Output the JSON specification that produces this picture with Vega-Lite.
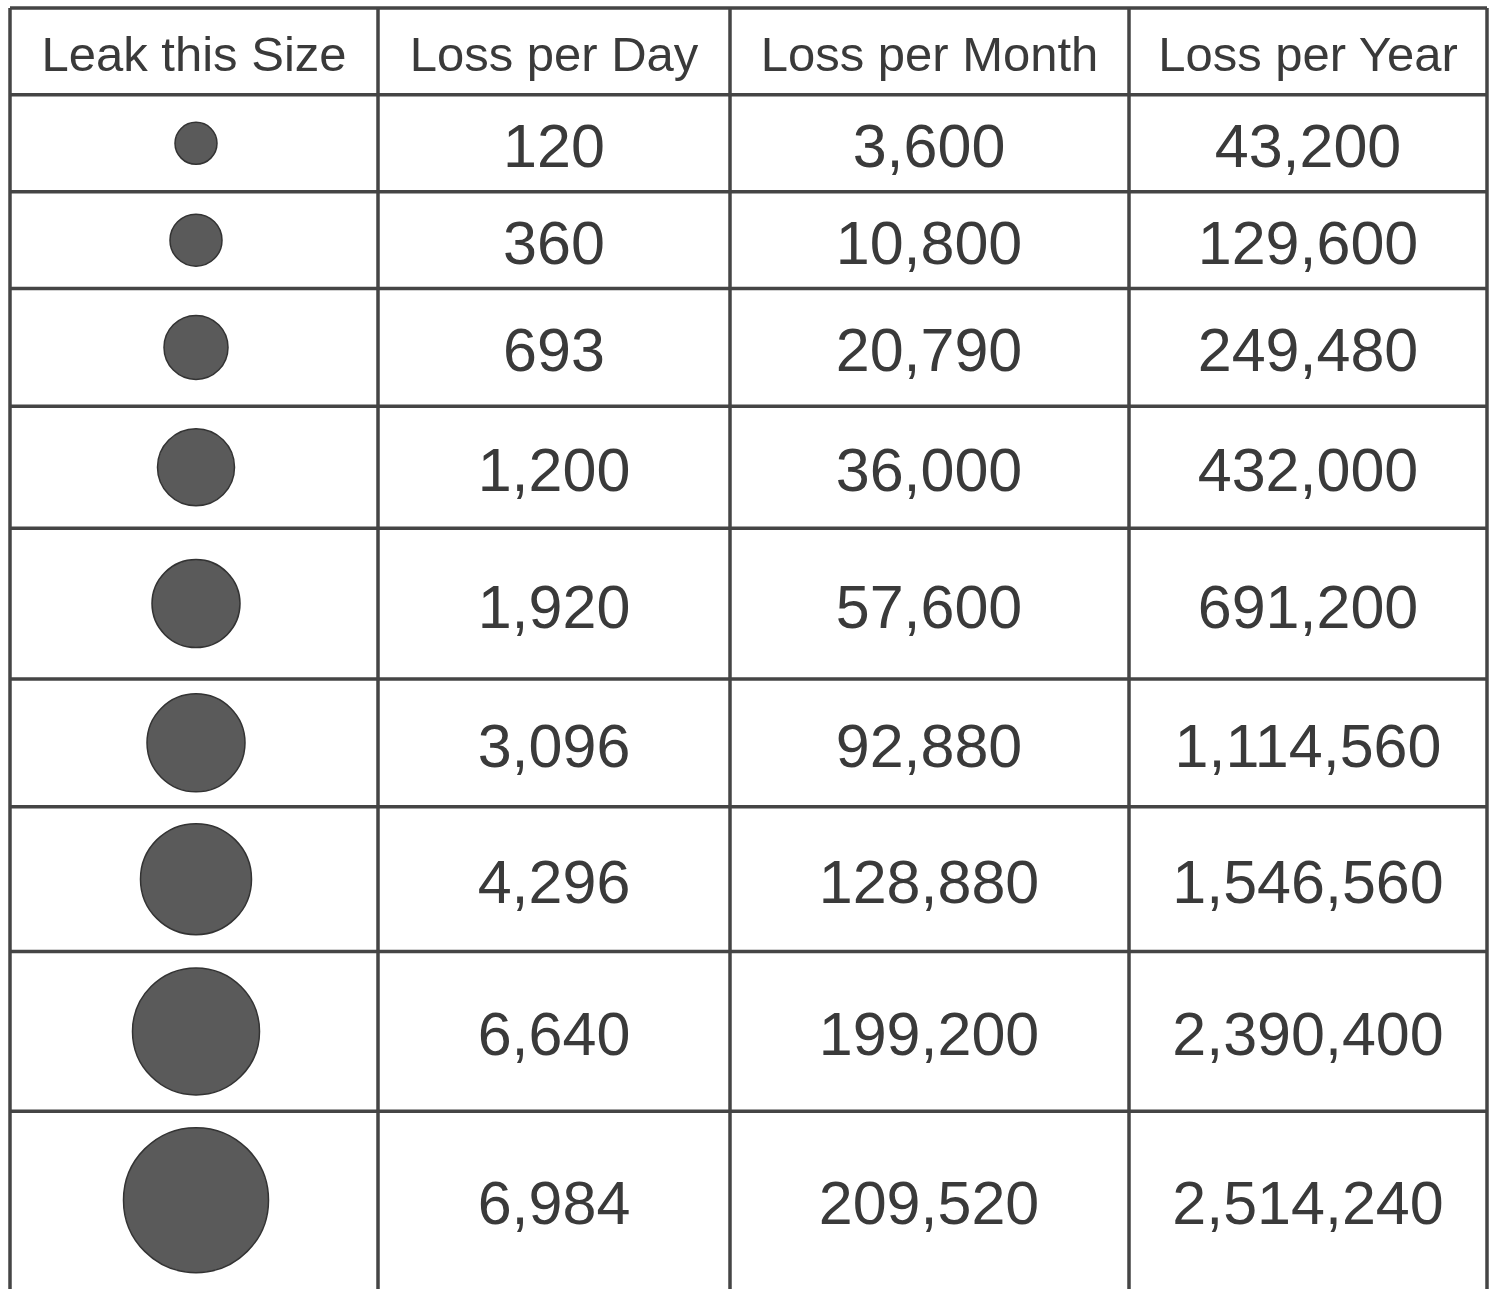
{
  "$schema": "https://vega.github.io/schema/vega-lite/v6.json",
  "width": 1494,
  "height": 1291,
  "padding": 0,
  "autosize": {"type": "fit", "contains": "padding"},
  "background": "white",
  "config": {"view": {"stroke": null}},
  "datasets": {
    "rows": [
      {"row": 1, "top": 95, "bottom": 192, "leak": 42, "day": 120, "month": 3600, "year": 43200},
      {"row": 2, "top": 192, "bottom": 289, "leak": 52, "day": 360, "month": 10800, "year": 129600},
      {"row": 3, "top": 289, "bottom": 407, "leak": 64, "day": 693, "month": 20790, "year": 249480},
      {"row": 4, "top": 407, "bottom": 529, "leak": 77, "day": 1200, "month": 36000, "year": 432000},
      {"row": 5, "top": 529, "bottom": 680, "leak": 88, "day": 1920, "month": 57600, "year": 691200},
      {"row": 6, "top": 680, "bottom": 808, "leak": 98, "day": 3096, "month": 92880, "year": 1114560},
      {"row": 7, "top": 808, "bottom": 953, "leak": 111, "day": 4296, "month": 128880, "year": 1546560},
      {"row": 8, "top": 953, "bottom": 1113, "leak": 127, "day": 6640, "month": 199200, "year": 2390400},
      {"row": 9, "top": 1113, "bottom": 1291, "leak": 145, "day": 6984, "month": 209520, "year": 2514240}
    ],
    "cols": [
      {"label": "Leak this Size", "x0": 10, "x1": 378},
      {"label": "Loss per Day", "x0": 378, "x1": 730},
      {"label": "Loss per Month", "x0": 730, "x1": 1129},
      {"label": "Loss per Year", "x0": 1129, "x1": 1487}
    ],
    "hlines": [{"y": 8}, {"y": 95}, {"y": 192}, {"y": 289}, {"y": 407}, {"y": 529}, {"y": 680}, {"y": 808}, {"y": 953}, {"y": 1113}],
    "vlines": [{"x": 10}, {"x": 378}, {"x": 730}, {"x": 1129}, {"x": 1487}]
  },
  "layer": [
    {
      "data": {"name": "hlines"},
      "mark": {"type": "rule", "color": "#454545", "strokeWidth": 3.5},
      "encoding": {
        "x": {"datum": 10, "type": "quantitative", "scale": {"domain": [0, 1494], "nice": false, "zero": false}, "axis": null},
        "x2": {"datum": 1487},
        "y": {"field": "y", "type": "quantitative", "scale": {"domain": [0, 1291], "nice": false, "zero": false, "reverse": true}, "axis": null}
      }
    },
    {
      "data": {"name": "vlines"},
      "mark": {"type": "rule", "color": "#454545", "strokeWidth": 3.5},
      "encoding": {
        "x": {"field": "x", "type": "quantitative", "scale": {"domain": [0, 1494], "nice": false, "zero": false}, "axis": null},
        "y": {"datum": 8, "type": "quantitative", "scale": {"domain": [0, 1291], "nice": false, "zero": false, "reverse": true}, "axis": null},
        "y2": {"datum": 1291}
      }
    },
    {
      "data": {"name": "cols"},
      "transform": [{"calculate": "(datum.x0 + datum.x1) / 2", "as": "xc"}],
      "mark": {"type": "text", "font": "Liberation Sans", "fontSize": 49, "color": "#3a3a3a", "baseline": "middle", "align": "center", "dy": 5},
      "encoding": {
        "x": {"field": "xc", "type": "quantitative", "axis": null},
        "y": {"datum": 51.5, "type": "quantitative", "axis": null},
        "text": {"field": "label"}
      }
    },
    {
      "data": {"name": "rows"},
      "transform": [{"calculate": "(datum.top + datum.bottom) / 2", "as": "mid"}],
      "mark": {"type": "circle", "color": "#5a5a5a", "opacity": 1, "stroke": "#333333", "strokeWidth": 1.5},
      "encoding": {
        "x": {"datum": 196, "type": "quantitative", "axis": null},
        "y": {"field": "mid", "type": "quantitative", "axis": null},
        "size": {"field": "leak", "type": "quantitative", "scale": {"type": "pow", "exponent": 2, "domain": [0, 150], "range": [0, 22500]}, "legend": null}
      }
    },
    {
      "data": {"name": "rows"},
      "transform": [{"calculate": "(datum.top + datum.bottom) / 2", "as": "mid"}],
      "mark": {"type": "text", "font": "Liberation Sans", "fontSize": 61, "color": "#3a3a3a", "baseline": "middle", "align": "center", "dy": 6},
      "encoding": {
        "x": {"datum": 554, "type": "quantitative", "axis": null},
        "y": {"field": "mid", "type": "quantitative", "axis": null},
        "text": {"field": "day", "type": "quantitative", "format": ",d"}
      }
    },
    {
      "data": {"name": "rows"},
      "transform": [{"calculate": "(datum.top + datum.bottom) / 2", "as": "mid"}],
      "mark": {"type": "text", "font": "Liberation Sans", "fontSize": 61, "color": "#3a3a3a", "baseline": "middle", "align": "center", "dy": 6},
      "encoding": {
        "x": {"datum": 929, "type": "quantitative", "axis": null},
        "y": {"field": "mid", "type": "quantitative", "axis": null},
        "text": {"field": "month", "type": "quantitative", "format": ",d"}
      }
    },
    {
      "data": {"name": "rows"},
      "transform": [{"calculate": "(datum.top + datum.bottom) / 2", "as": "mid"}],
      "mark": {"type": "text", "font": "Liberation Sans", "fontSize": 61, "color": "#3a3a3a", "baseline": "middle", "align": "center", "dy": 6},
      "encoding": {
        "x": {"datum": 1308, "type": "quantitative", "axis": null},
        "y": {"field": "mid", "type": "quantitative", "axis": null},
        "text": {"field": "year", "type": "quantitative", "format": ",d"}
      }
    }
  ]
}
